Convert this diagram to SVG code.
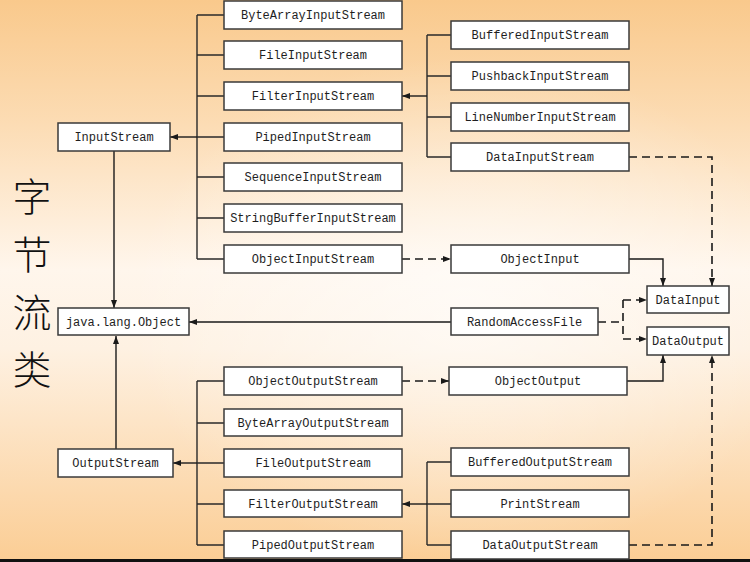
<svg xmlns="http://www.w3.org/2000/svg" width="750" height="562" viewBox="0 0 750 562">
<defs>
<linearGradient id="bg" x1="0" y1="0" x2="0" y2="1">
<stop offset="0" stop-color="#f9c98c"/>
<stop offset="0.22" stop-color="#fcdcb4"/>
<stop offset="0.48" stop-color="#fff6ec"/>
<stop offset="0.62" stop-color="#fef1e2"/>
<stop offset="1" stop-color="#fbcd94"/>
</linearGradient>
<radialGradient id="glow" cx="0.62" cy="0.55" r="0.45">
<stop offset="0" stop-color="#ffffff" stop-opacity="0.6"/>
<stop offset="1" stop-color="#ffffff" stop-opacity="0"/>
</radialGradient>
<marker id="ah" markerWidth="8" markerHeight="6" refX="8" refY="3" orient="auto" markerUnits="userSpaceOnUse">
<path d="M0,0 L8,3 L0,6 z" fill="#1a1a1a"/>
</marker>
</defs>
<style>
.box{fill:#ffffff;stroke:#3a3a3a;stroke-width:1.5}
.t{font-family:"Liberation Mono","DejaVu Sans Mono",monospace;font-size:12px;fill:#1e1e1e;text-anchor:middle}
.ln{fill:none;stroke:#2a2a2a;stroke-width:1.4}
.ar{fill:none;stroke:#1a1a1a;stroke-width:1.4;marker-end:url(#ah)}
.ds{fill:none;stroke:#1a1a1a;stroke-width:1.6;stroke-dasharray:8,5}
.dsa{fill:none;stroke:#1a1a1a;stroke-width:1.6;stroke-dasharray:8,5;marker-end:url(#ah)}
.cjk{font-family:"Noto Sans CJK SC",sans-serif;font-size:39px;fill:#111;text-anchor:middle;font-weight:300}
</style>
<rect width="750" height="562" fill="url(#bg)"/>
<rect width="750" height="562" fill="url(#glow)"/>
<rect x="0" y="559" width="750" height="3" fill="#111"/>

<g id="title">
<text class="cjk" x="32" y="211">字</text>
<text class="cjk" x="32" y="269">节</text>
<text class="cjk" x="32" y="327">流</text>
<text class="cjk" x="32" y="384">类</text>
</g>

<g id="connectors">
<path class="ln" d="M197,15 V259 M197,15 H224 M197,55 H224 M197,96 H224 M197,137 H224 M197,177 H224 M197,218 H224 M197,259 H224"/>
<path class="ar" d="M197,137 H170"/>
<path class="ar" d="M114,151 V308"/>
<path class="ar" d="M116,449 V336"/>
<path class="ar" d="M451,322 H189"/>
<path class="ln" d="M427,35 V157 M427,35 H451 M427,76 H451 M427,117 H451 M427,157 H451"/>
<path class="ar" d="M427,96 H402"/>
<path class="dsa" d="M629,157 H712 V286"/>
<path class="dsa" d="M402,259 H451"/>
<path class="ar" d="M629,259 H663 V286"/>
<path class="ds" d="M598,322 H623 M623,300 V339"/>
<path class="dsa" d="M623,300 H647"/>
<path class="dsa" d="M623,339 H647"/>
<path class="dsa" d="M402,381 H449"/>
<path class="ar" d="M627,381 H663 V355"/>
<path class="dsa" d="M629,545 H712 V355"/>
<path class="ln" d="M197,381 V545 M197,381 H224 M197,423 H224 M197,463 H224 M197,504 H224 M197,545 H224"/>
<path class="ar" d="M197,463 H173"/>
<path class="ln" d="M427,462 V545 M427,462 H451 M427,504 H451 M427,545 H451"/>
<path class="ar" d="M427,504 H402"/>
</g>

<g id="InputStream"><rect class="box" x="58" y="123" width="112" height="28"/><text class="t" x="114" y="141">InputStream</text></g>
<g id="Object"><rect class="box" x="58" y="308" width="131" height="27"/><text class="t" x="123.5" y="325.5">java.lang.Object</text></g>
<g id="OutputStream"><rect class="box" x="58" y="449" width="115" height="28"/><text class="t" x="115.5" y="467">OutputStream</text></g>

<g id="ByteArrayInputStream"><rect class="box" x="224" y="1" width="178" height="28"/><text class="t" x="313" y="19">ByteArrayInputStream</text></g>
<g id="FileInputStream"><rect class="box" x="224" y="41" width="178" height="28"/><text class="t" x="313" y="59">FileInputStream</text></g>
<g id="FilterInputStream"><rect class="box" x="224" y="82" width="178" height="28"/><text class="t" x="313" y="100">FilterInputStream</text></g>
<g id="PipedInputStream"><rect class="box" x="224" y="123" width="178" height="28"/><text class="t" x="313" y="141">PipedInputStream</text></g>
<g id="SequenceInputStream"><rect class="box" x="224" y="163" width="178" height="28"/><text class="t" x="313" y="181">SequenceInputStream</text></g>
<g id="StringBufferInputStream"><rect class="box" x="224" y="204" width="178" height="28"/><text class="t" x="313" y="222">StringBufferInputStream</text></g>
<g id="ObjectInputStream"><rect class="box" x="224" y="245" width="178" height="28"/><text class="t" x="313" y="263">ObjectInputStream</text></g>

<g id="BufferedInputStream"><rect class="box" x="451" y="21" width="178" height="28"/><text class="t" x="540" y="39">BufferedInputStream</text></g>
<g id="PushbackInputStream"><rect class="box" x="451" y="62" width="178" height="28"/><text class="t" x="540" y="80">PushbackInputStream</text></g>
<g id="LineNumberInputStream"><rect class="box" x="451" y="103" width="178" height="28"/><text class="t" x="540" y="121">LineNumberInputStream</text></g>
<g id="DataInputStream"><rect class="box" x="451" y="143" width="178" height="28"/><text class="t" x="540" y="161">DataInputStream</text></g>

<g id="ObjectInput"><rect class="box" x="451" y="245" width="178" height="28"/><text class="t" x="540" y="263">ObjectInput</text></g>
<g id="RandomAccessFile"><rect class="box" x="451" y="308" width="147" height="27"/><text class="t" x="524.5" y="325.5">RandomAccessFile</text></g>
<g id="ObjectOutput"><rect class="box" x="449" y="367" width="178" height="28"/><text class="t" x="538" y="385">ObjectOutput</text></g>
<g id="DataInput"><rect class="box" x="647" y="286" width="82" height="27"/><text class="t" x="688" y="303.5">DataInput</text></g>
<g id="DataOutput"><rect class="box" x="647" y="327" width="82" height="28"/><text class="t" x="688" y="345">DataOutput</text></g>

<g id="ObjectOutputStream"><rect class="box" x="224" y="367" width="178" height="28"/><text class="t" x="313" y="385">ObjectOutputStream</text></g>
<g id="ByteArrayOutputStream"><rect class="box" x="224" y="409" width="178" height="27"/><text class="t" x="313" y="426.5">ByteArrayOutputStream</text></g>
<g id="FileOutputStream"><rect class="box" x="224" y="449" width="178" height="28"/><text class="t" x="313" y="467">FileOutputStream</text></g>
<g id="FilterOutputStream"><rect class="box" x="224" y="490" width="178" height="27"/><text class="t" x="313" y="507.5">FilterOutputStream</text></g>
<g id="PipedOutputStream"><rect class="box" x="224" y="531" width="178" height="27"/><text class="t" x="313" y="548.5">PipedOutputStream</text></g>

<g id="BufferedOutputStream"><rect class="box" x="451" y="448" width="178" height="28"/><text class="t" x="540" y="466">BufferedOutputStream</text></g>
<g id="PrintStream"><rect class="box" x="451" y="490" width="178" height="27"/><text class="t" x="540" y="507.5">PrintStream</text></g>
<g id="DataOutputStream"><rect class="box" x="451" y="531" width="178" height="28"/><text class="t" x="540" y="549">DataOutputStream</text></g>
</svg>
